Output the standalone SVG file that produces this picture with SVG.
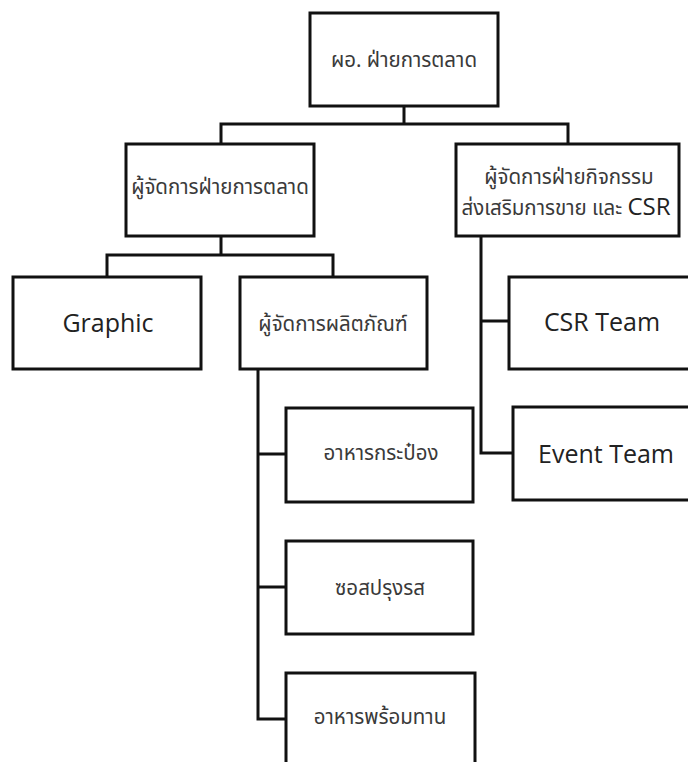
<svg xmlns="http://www.w3.org/2000/svg" width="688" height="762" viewBox="0 0 688 762">
  <style>
    .box { fill: #ffffff; stroke: #111111; stroke-width: 3; }
    .wire { fill: none; stroke: #111111; stroke-width: 3; stroke-linecap: square; }
    .th { font-family: "Noto Sans Thai", "Leelawadee UI", Tahoma, "Noto Sans", "DejaVu Sans", sans-serif; font-size: 20.5px; fill: #3a3a3a; text-anchor: middle; }
    .en { font-family: "Open Sans", "Noto Sans", "Liberation Sans", sans-serif; font-size: 25px; fill: #222222; text-anchor: middle; }
    .big { font-family: "Open Sans", "Noto Sans", sans-serif; font-size: 24px; fill: #222222; }
  </style>
  <rect width="688" height="762" fill="#ffffff"/>

  <!-- connectors -->
  <g id="connectors">
    <path class="wire" d="M404 106 V124 M221 124 H568 M221 124 V144 M568 124 V144"/>
    <path class="wire" d="M221 236 V255 M107 255 H333 M107 255 V277 M333 255 V277"/>
    <path class="wire" d="M481 236 V453 M481 321 H509 M481 453 H513"/>
    <path class="wire" d="M258 369 V719 M258 454 H286 M258 587 H286 M258 719 H286"/>
  </g>

  <g id="director">
    <rect class="box" x="310" y="13" width="188" height="93"/>
    <text class="th" x="404" y="67">ผอ. ฝ่ายการตลาด</text>
  </g>

  <g id="marketing-manager">
    <rect class="box" x="126" y="144" width="188" height="92"/>
    <text class="th" x="220" y="194">ผู้จัดการฝ่ายการตลาด</text>
  </g>

  <g id="promotion-csr-manager">
    <rect class="box" x="456" y="144" width="223" height="92"/>
    <text class="th" x="569" y="184">ผู้จัดการฝ่ายกิจกรรม</text>
    <text class="th" x="566" y="215">ส่งเสริมการขาย และ <tspan class="big">CSR</tspan></text>
  </g>

  <g id="graphic">
    <rect class="box" x="13" y="277" width="188" height="92"/>
    <text class="en" x="108" y="332">Graphic</text>
  </g>

  <g id="product-manager">
    <rect class="box" x="240" y="277" width="187" height="92"/>
    <text class="th" x="333" y="331">ผู้จัดการผลิตภัณฑ์</text>
  </g>

  <g id="csr-team">
    <rect class="box" x="509" y="277" width="190" height="92"/>
    <text class="en" x="602" y="331">CSR Team</text>
  </g>

  <g id="event-team">
    <rect class="box" x="513" y="407" width="190" height="93"/>
    <text class="en" x="606" y="463">Event Team</text>
  </g>

  <g id="canned-food">
    <rect class="box" x="286" y="408" width="187" height="94"/>
    <text class="th" x="381" y="460">อาหารกระป๋อง</text>
  </g>

  <g id="seasoning-sauce">
    <rect class="box" x="286" y="541" width="187" height="93"/>
    <text class="th" x="380" y="595">ซอสปรุงรส</text>
  </g>

  <g id="ready-meals">
    <rect class="box" x="286" y="673" width="189" height="100"/>
    <text class="th" x="380" y="724">อาหารพร้อมทาน</text>
  </g>
</svg>
